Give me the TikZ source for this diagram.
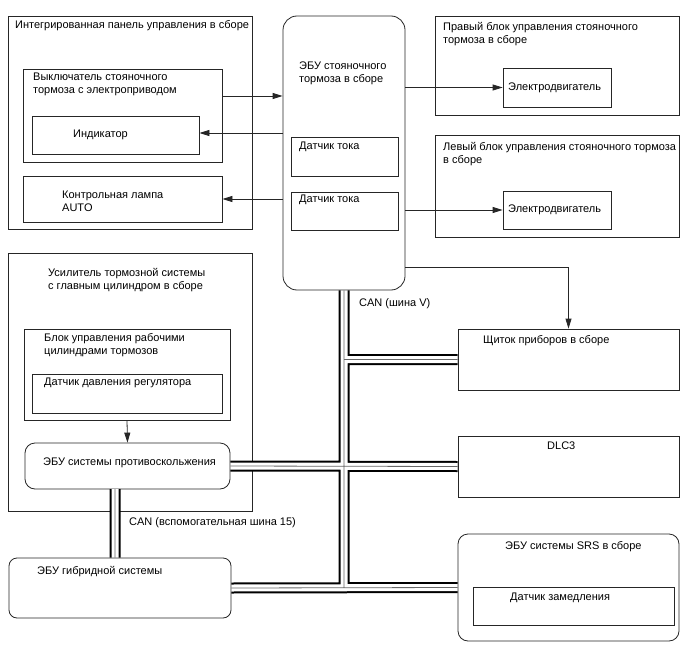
\documentclass[tikz,border=0pt]{standalone}
\usepackage{fontspec}
\setmainfont{Liberation Sans}
\usetikzlibrary{fit,arrows.meta}

\begin{document}
\begin{tikzpicture}[x=1pt,y=-1pt,
    box/.style={draw=black!85, line width=0.8pt, inner sep=0pt},
    rbox/.style={box, rounded corners=#1},
    txt/.style={anchor=north west, inner sep=0pt, align=left, font=\fontsize{11pt}{13pt}\selectfont},
    arr/.style={draw=black!85, line width=0.8pt, -{Triangle[length=10pt,width=6pt]}}]
    \useasboundingbox (0,0) rectangle (688,658);
    % Nodes
    \node[box, fit={(8,16) (252,229)}] (panel) {};
    \node[box, fit={(23,69) (222,162)}] (switch) {};
    \node[box, fit={(32,116) (199,154)}] (indicator) {};
    \node[box, fit={(23,176) (222,222)}] (lamp) {};
    \node[rbox=14pt, fit={(283,16) (405,290)}] (ecu) {};
    \node[box, fit={(291,137) (398,176)}] (sensA) {};
    \node[box, fit={(291,192) (398,230)}] (sensB) {};
    \node[box, fit={(435,16) (679,115)}] (rightunit) {};
    \node[box, fit={(503,68) (611,107)}] (motorR) {};
    \node[box, fit={(435,135) (679,237)}] (leftunit) {};
    \node[box, fit={(503,191) (611,229)}] (motorL) {};
    \node[box, fit={(8,253) (252,511)}] (booster) {};
    \node[box, fit={(24,329) (230,420)}] (wheelctl) {};
    \node[box, fit={(32,374) (222,413)}] (pressure) {};
    \node[rbox=10pt, fit={(25,443) (230,489)}] (abs) {};
    \node[box, fit={(458,329) (679,390)}] (cluster) {};
    \node[box, fit={(458,436) (679,497)}] (dlc) {};
    \node[rbox=8pt, fit={(9,558) (231,618)}] (hybrid) {};
    \node[rbox=10pt, fit={(458,534) (679,641)}] (srs) {};
    \node[box, fit={(473,587) (674,625)}] (decel) {};
    \coordinate (can15) at (115,489);
    % Labels
    \node[txt] (panelT) at (15,20) {Интегрированная панель управления в сборе};
    \node[txt] (switchT) at (33,73) {Выключатель стояночного\\тормоза с электроприводом};
    \node[txt] (indicatorT) at (73,130) {Индикатор};
    \node[txt] (lampT) at (62,191) {Контрольная лампа\\AUTO};
    \node[txt] (ecuT) at (299,62) {ЭБУ стояночного\\тормоза в сборе};
    \node[txt] (sensAT) at (299,142) {Датчик тока};
    \node[txt] (sensBT) at (299,195) {Датчик тока};
    \node[txt] (rightunitT) at (443,22) {Правый блок управления стояночного\\тормоза в сборе};
    \node[txt] (motorRT) at (508,83) {Электродвигатель};
    \node[txt] (leftunitT) at (443,142) {Левый блок управления стояночного тормоза\\в сборе};
    \node[txt] (motorLT) at (508,205) {Электродвигатель};
    \node[txt] (boosterT) at (48,268) {Усилитель тормозной системы\\с главным цилиндром в сборе};
    \node[txt] (wheelctlT) at (44,333) {Блок управления рабочими\\цилиндрами тормозов};
    \node[txt] (pressureT) at (44,378) {Датчик давления регулятора};
    \node[txt] (absT) at (43,458) {ЭБУ системы противоскольжения};
    \node[txt] (canV) at (359,298) {CAN (шина V)};
    \node[txt] (canAux) at (129,517) {CAN (вспомогательная шина 15)};
    \node[txt] (hybridT) at (37,566) {ЭБУ гибридной системы};
    \node[txt] (clusterT) at (483,335) {Щиток приборов в сборе};
    \node[txt] (dlcT) at (547,442) {DLC3};
    \node[txt] (srsT) at (505,541) {ЭБУ системы SRS в сборе};
    \node[txt] (decelT) at (510,593) {Датчик замедления};
    % Edges
    \draw[arr] (switch.east |- 0,96) -- (ecu.west |- 0,96);
    \draw[arr] (ecu.west |- 0,133) -- (indicator.east |- 0,133);
    \draw[arr] (ecu.west |- 0,199) -- (lamp.east |- 0,199);
    \draw[arr] (ecu.east |- motorR.west) -- (motorR.west);
    \draw[arr] (ecu.east |- motorL.west) -- (motorL.west);
    \draw[arr] (ecu.east |- 0,267) -| (cluster.north);
    \draw[arr] (wheelctl.south) -- (abs.north);
    % CAN buses
    \foreach \w/\c in {11pt/black, 7pt/white, 0.8pt/black!60} {
        \draw[line width=\w, \c]
            (ecu.south) -- (ecu.south |- srs.west)
            (ecu.south |- cluster.west) -- (cluster.west)
            (abs.east) -- (dlc.west)
            (hybrid.east) -- (srs.west)
            (can15) -- (can15 |- hybrid.north);
    }
\end{tikzpicture}
\end{document}
